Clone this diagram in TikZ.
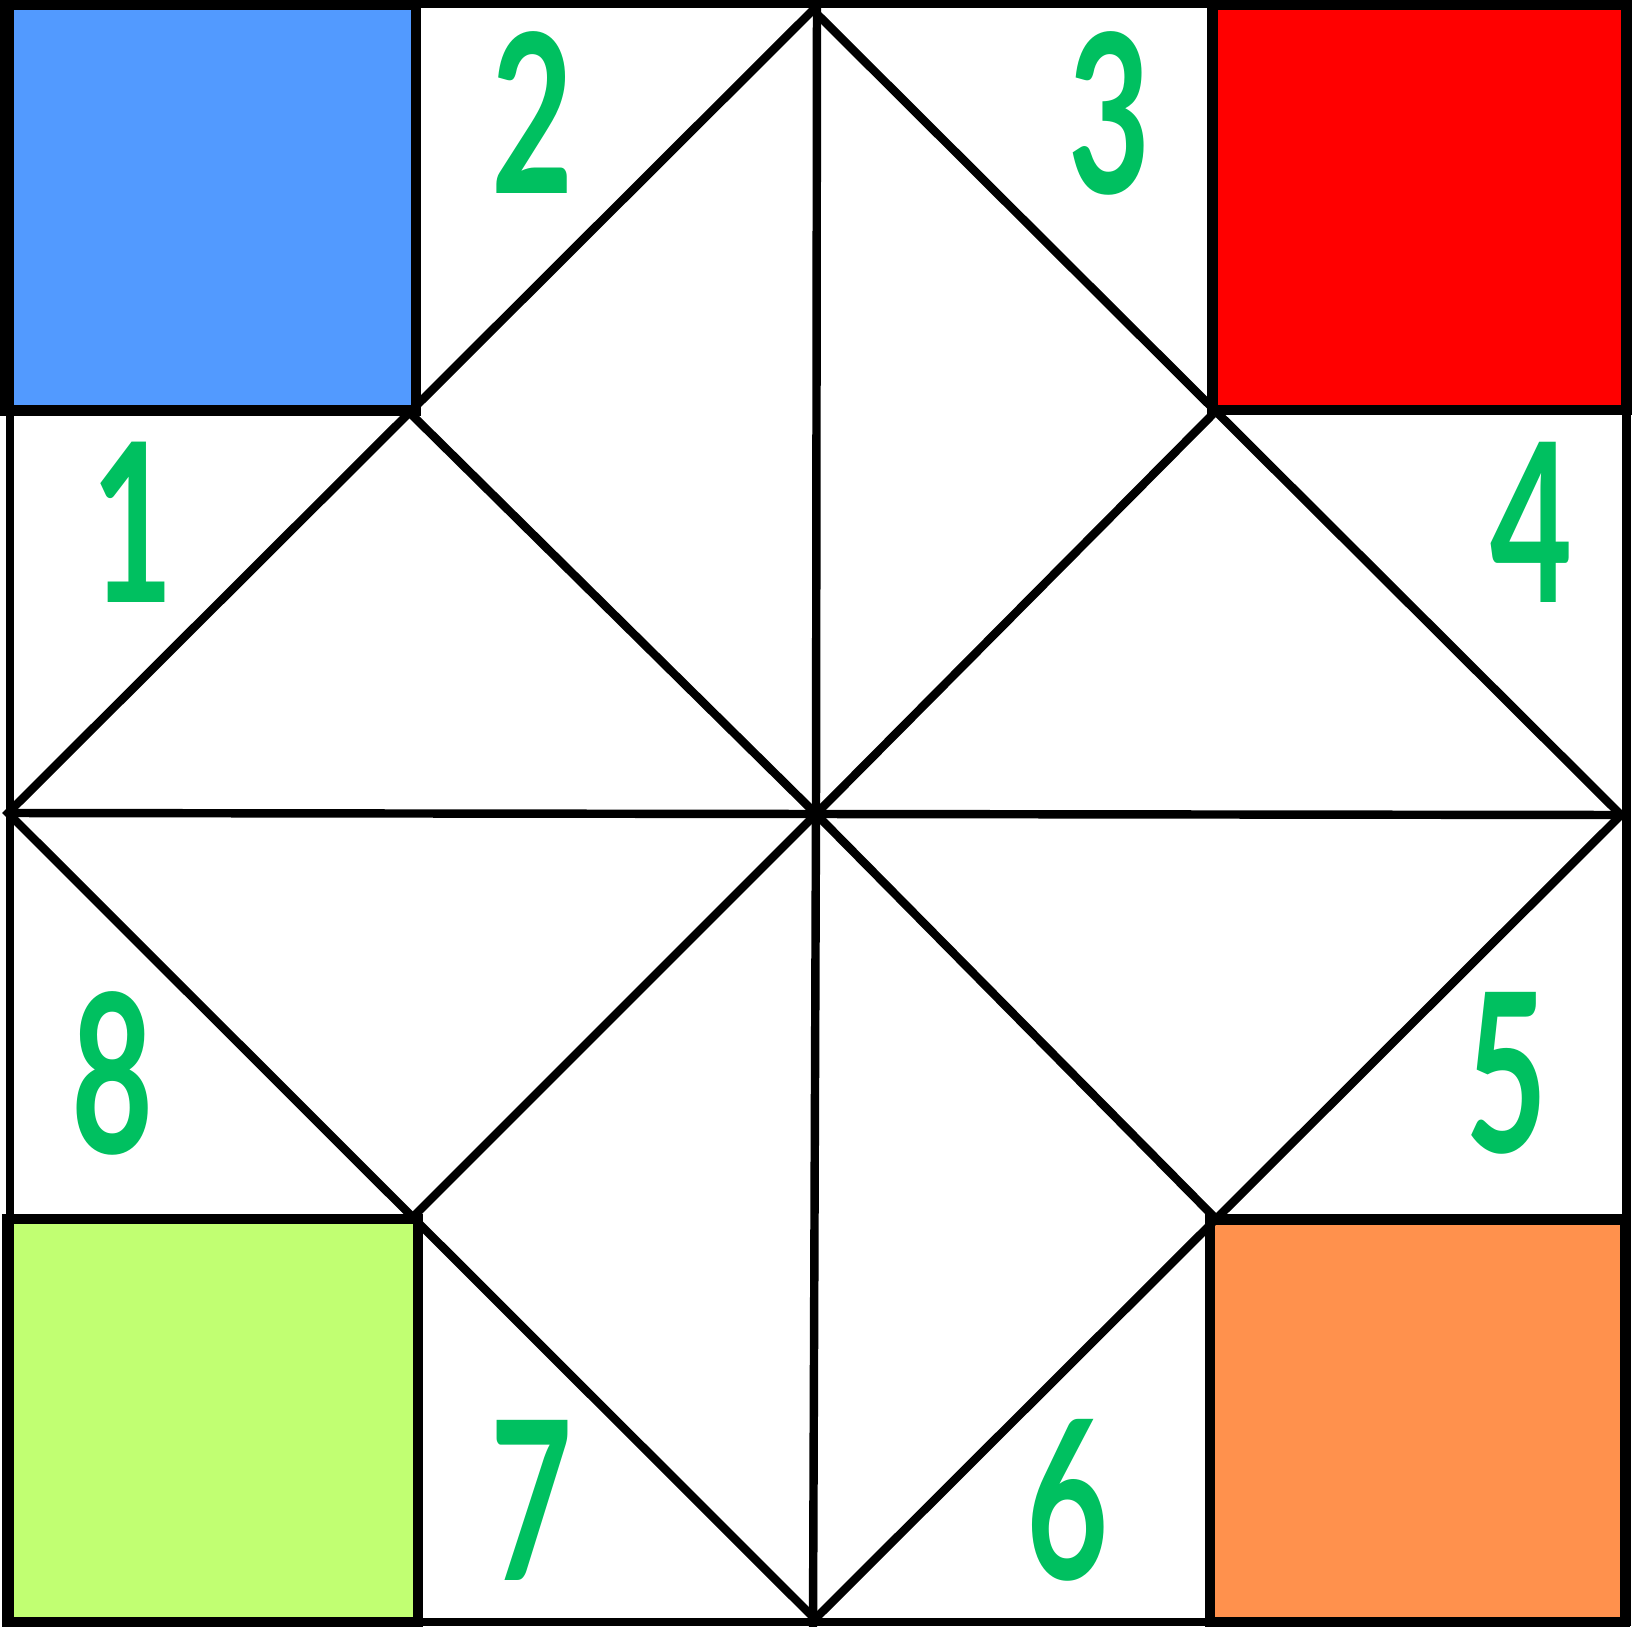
\documentclass[tikz,border=0pt]{standalone}
\usepackage{fontspec}
\newfontfamily\numfont[FakeStretch=0.64]{Lato}
\definecolor{sqblue}{HTML}{529AFF}
\definecolor{sqred}{HTML}{FF0000}
\definecolor{sqlime}{HTML}{C1FF72}
\definecolor{sqorange}{HTML}{FF914D}
\definecolor{numgreen}{HTML}{00C060}

\begin{document}
\begin{tikzpicture}[
    x={(0.01cm,0)}, y={(0,-0.01cm)},
    line/.style={line width=2.4pt},
    box/.style={line width=2.85pt},
    num/.style={text=numgreen, inner sep=0pt,
        font=\numfont\bfseries\fontsize{63}{63}\selectfont}
]
    \useasboundingbox (0,0) rectangle (1632,1627);

    % 四个角上的彩色方块
    \fill[sqblue]   (5,4.5) rectangle (416,410.5);
    \fill[sqred]    (1212.5,5) rectangle (1626.5,410);
    \fill[sqlime]   (7,1219) rectangle (418,1622);
    \fill[sqorange] (1210,1219.5) rectangle (1625,1622);

    % 关键点
    \coordinate (top)   at (813,10);    % 上顶点
    \coordinate (right) at (1621,815);  % 右顶点
    \coordinate (bot)   at (815,1619);  % 下顶点
    \coordinate (left)  at (8,813);     % 左顶点
    \coordinate (C)     at (816,814);   % 中心
    \coordinate (cBL)   at (409,412);   % 蓝色角
    \coordinate (cRD)   at (1213,414);  % 红色角
    \coordinate (cGR)   at (414,1216);  % 绿色角
    \coordinate (cOR)   at (1217,1220); % 橙色角

    % 外框
    \draw[line] (10,3.5) rectangle (1626.5,1622);

    % 中线
    \draw[line] (817,0) -- (C) -- (813,1627);
    \draw[line] (left) -- (C) -- (right);

    % 外菱形
    \draw[line] (top) -- (right) -- (bot) -- (left) -- cycle;

    % 对角线
    \draw[line] (cBL) -- (C) -- (cOR);
    \draw[line] (cRD) -- (C) -- (cGR);

    % 方块边框
    \draw[box] (5,4.5) rectangle (416,410.5);
    \draw[box] (1212.5,5) rectangle (1626.5,410);
    \draw[box] (7,1219) rectangle (418,1622);
    \draw[box] (1210,1219.5) rectangle (1625,1622);

    % 数字
    \node[num] (n1) at (133,522)  {1};
    \node[num] (n2) at (533,113)  {2};
    \node[num] (n3) at (1110,113) {3};
    \node[num] (n4) at (1532,522) {4};
    \node[num] (n5) at (1507,1073) {5};
    \node[num] (n6) at (1068,1500) {6};
    \node[num] (n7) at (532,1500) {7};
    \node[num] (n8) at (113,1073) {8};

\end{tikzpicture}
\end{document}
